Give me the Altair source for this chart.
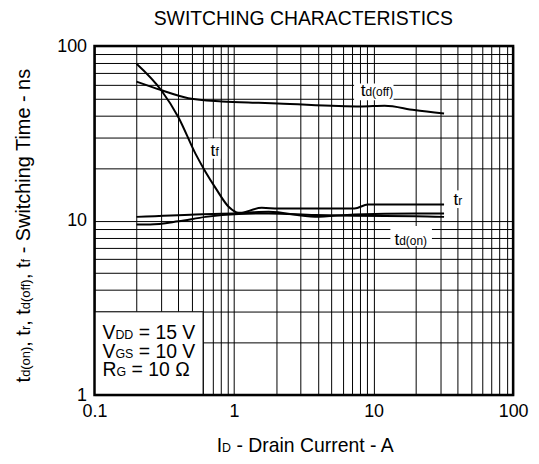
import altair as alt
import pandas as pd

# ---------------- data ----------------
tdoff_x = [0.2, 0.3, 0.47, 0.82, 1.5, 2.06, 8.2, 12, 19.6, 32]
tdoff_y = [62.6, 56, 50.3, 48.2, 47.3, 46.9, 45.1, 45.5, 43, 41.1]

tf_x = [0.2, 0.3, 0.4, 0.53, 0.625, 0.74, 0.915, 1.08, 1.77, 3.8, 7.3, 20, 32]
tf_y = [79.3, 56, 39, 24.1, 19, 15.3, 12, 11.08, 11.22, 10.51, 10.85, 10.99, 10.99]

tr_x = [0.2, 0.53, 1.08, 1.58, 2.08, 7.3, 9.1, 32]
tr_y = [10.5, 10.85, 11.0, 11.83, 11.73, 11.73, 12.37, 12.37]

tdon_x = [0.2, 0.25, 0.4, 0.625, 1.08, 1.77, 3.8, 7.3, 20, 32]
tdon_y = [9.5, 9.5, 9.9, 10.5, 10.9, 10.99, 10.75, 10.65, 10.6, 10.5]

x_decades = [0.1, 1, 10, 100]
y_decades = [1, 10, 100]

title_text = "SWITCHING CHARACTERISTICS"
# (text, is_subscript) pieces
x_title = [("I", 0), ("D", 1), (" - Drain Current - A", 0)]
y_title = [("t", 0), ("d(on)", 1), (", t", 0), ("r", 1), (", t", 0), ("d(off)", 1),
           (", t", 0), ("f", 1), (" - Switching Time - ns", 0)]
cond_lines = [
    [("V", 0), ("DD", 1), (" = 15 V", 0)],
    [("V", 0), ("GS", 1), (" = 10 V", 0)],
    [("R", 0), ("G", 1), (" = 10 \u03a9", 0)],
]
# curve labels: pieces, anchor (x, y) in data units, white box [x1, x2, y1, y2]
curve_labels = [
    ([("t", 0), ("d(off)", 1)], (8.08, 51.9), (7.25, 13.9, 49, 61)),
    ([("t", 0), ("f", 1)], (0.679, 23.6), (0.649, 0.8, 22.6, 29.5)),
    ([("t", 0), ("r", 1)], (37.4, 12.26), (35, 47, 11.8, 14.9)),
    ([("t", 0), ("d(on)", 1)], (14.1, 7.25), (13.2, 26.2, 7.15, 9.3)),
]
cond_box = (0.1, 0.6, 1, 3)

# ---------------- styling ----------------
F = "Liberation Sans"
W_PLOT, H_PLOT = 421, 351

AW = {' ': 278, '(': 333, ')': 333, ',': 278, '-': 333, '.': 278,
      '=': 584, 'A': 667, 'C': 722, 'D': 722, 'G': 778, 'I': 278, 'R': 722,
      'S': 667, 'T': 611, 'V': 667, 'a': 556, 'c': 500, 'd': 556, 'e': 556,
      'f': 278, 'g': 556, 'h': 556, 'i': 222, 'm': 833, 'n': 556, 'o': 556,
      'r': 333, 's': 500, 't': 278, 'u': 556, 'w': 722, '\u03a9': 768}
for ch in "0123456789":
    AW[ch] = 556


def tw(s, size):
    return sum(AW.get(c, 556) for c in s) / 1000.0 * size


def split_lead(s, size):
    """Leading blanks are dropped by the renderer: turn them into an offset."""
    stripped = s.lstrip(" ")
    return stripped, tw(s[: len(s) - len(stripped)], size)


xgrid = [round(m * 10 ** e, 6) for e in (-1, 0, 1) for m in range(1, 10)] + [100]
ygrid = [round(m * 10 ** e, 6) for e in (0, 1) for m in range(1, 10)] + [100]

xs = alt.Scale(type="log", domain=[0.1, 100], nice=False)
ys = alt.Scale(type="log", domain=[1, 100], nice=False)

x_label_expr = " : ".join(
    f"datum.value == {v} ? '{v}'" for v in x_decades) + " : ''"
y_label_expr = " : ".join(
    f"datum.value == {v} ? '{v}'" for v in y_decades) + " : ''"

common_axis = dict(title=None, grid=True, ticks=False, domain=False,
                   labelFont=F, labelFontSize=18, labelColor="black",
                   gridColor="black", gridWidth=1, gridOpacity=1,
                   labelOverlap=False, labelFlush=False, labelPadding=8)
xaxis = alt.Axis(values=xgrid, labelExpr=x_label_expr, **common_axis)
yaxis = alt.Axis(values=ygrid, labelExpr=y_label_expr, **common_axis)

X = alt.X("x:Q", scale=xs, axis=xaxis)
Y = alt.Y("y:Q", scale=ys, axis=yaxis)

# ---------------- curves ----------------
rows = []
for name, xv, yv in [("td(off)", tdoff_x, tdoff_y), ("tf", tf_x, tf_y),
                     ("tr", tr_x, tr_y), ("td(on)", tdon_x, tdon_y)]:
    for a, b in zip(xv, yv):
        rows.append({"series": name, "x": a, "y": b})
curves_df = pd.DataFrame(rows)

layers = []

# white boxes behind curve labels
box_df = pd.DataFrame([{"x": b[0], "x2": b[1], "y": b[2], "y2": b[3]}
                       for _, _, b in curve_labels])
layers.append(alt.Chart(box_df).mark_rect(color="white").encode(
    x=X, x2="x2:Q", y=Y, y2="y2:Q"))

layers.append(alt.Chart(curves_df).mark_line(
    color="black", strokeWidth=2, interpolate="monotone").encode(
    x=X, y=Y, detail="series:N"))

# conditions box
cb_df = pd.DataFrame([{"x": cond_box[0], "x2": cond_box[1],
                       "y": cond_box[2], "y2": cond_box[3]}])
layers.append(alt.Chart(cb_df).mark_rect(
    fill="white", stroke="black", strokeWidth=1).encode(
    x=X, x2="x2:Q", y=Y, y2="y2:Q"))

one = pd.DataFrame({"k": [0]})


def px_text(txt, x, y, size, angle=0, align="left"):
    kw = dict(text=txt, font=F, fontSize=size, color="black",
              align=align, baseline="alphabetic")
    if angle:
        kw["angle"] = angle
    return alt.Chart(one).mark_text(**kw).encode(
        x=alt.value(x), y=alt.value(y))


# curve labels (data-anchored, pieces offset with dx)
LB, LS = 17.5, 12
for pieces, (ax, ay), _ in curve_labels:
    adf = pd.DataFrame({"x": [ax], "y": [ay]})
    off = 0.0
    for txt, sub in pieces:
        size = LS if sub else LB
        t2, lead = split_lead(txt, size)
        layers.append(alt.Chart(adf).mark_text(
            text=t2, font=F, fontSize=size, color="black",
            align="left", baseline="alphabetic", dx=off + lead).encode(x=X, y=Y))
        off += tw(txt, size)

# conditions text
CB, CS = 19.5, 12.5
cond_x = 8
cond_base = [294.3, 313.3, 331.7]
for line, by in zip(cond_lines, cond_base):
    off = cond_x
    for txt, sub in line:
        size = CS if sub else CB
        t2, lead = split_lead(txt, size)
        layers.append(px_text(t2, off + lead, by, size))
        off += tw(txt, size)

# chart title
layers.append(px_text(title_text, 210, -21, 19.5, align="center"))

# x title
TB, TS = 19.5, 12.5
tot = sum(tw(t, TS if s else TB) for t, s in x_title)
off = 212.5 - tot / 2
for txt, sub in x_title:
    size = TS if sub else TB
    t2, lead = split_lead(txt, size)
    layers.append(px_text(t2, off + lead, 408.5, size))
    off += tw(txt, size)

# y title (rotated)
YB, YS = 20, 13
tot = sum(tw(t, YS if s else YB) for t, s in y_title)
pos = 180 + tot / 2
for txt, sub in y_title:
    size = YS if sub else YB
    t2, lead = split_lead(txt, size)
    layers.append(px_text(t2, -65, pos - lead, size, angle=270))
    pos -= tw(txt, size)

# frame
layers.append(alt.Chart(one).mark_rect(
    filled=False, stroke="black", strokeWidth=2.5).encode(
    x=alt.value(0), x2=alt.value(W_PLOT), y=alt.value(0), y2=alt.value(H_PLOT)))

chart = alt.layer(*layers).properties(
    width=W_PLOT, height=H_PLOT,
    autosize=alt.AutoSizeParams(type="none"),
    padding={"left": 87, "top": 37, "right": 18, "bottom": 64},
).configure_view(strokeWidth=0).configure(background="white")

chart.save("out.html", embed_options={"renderer": "svg", "actions": False})
